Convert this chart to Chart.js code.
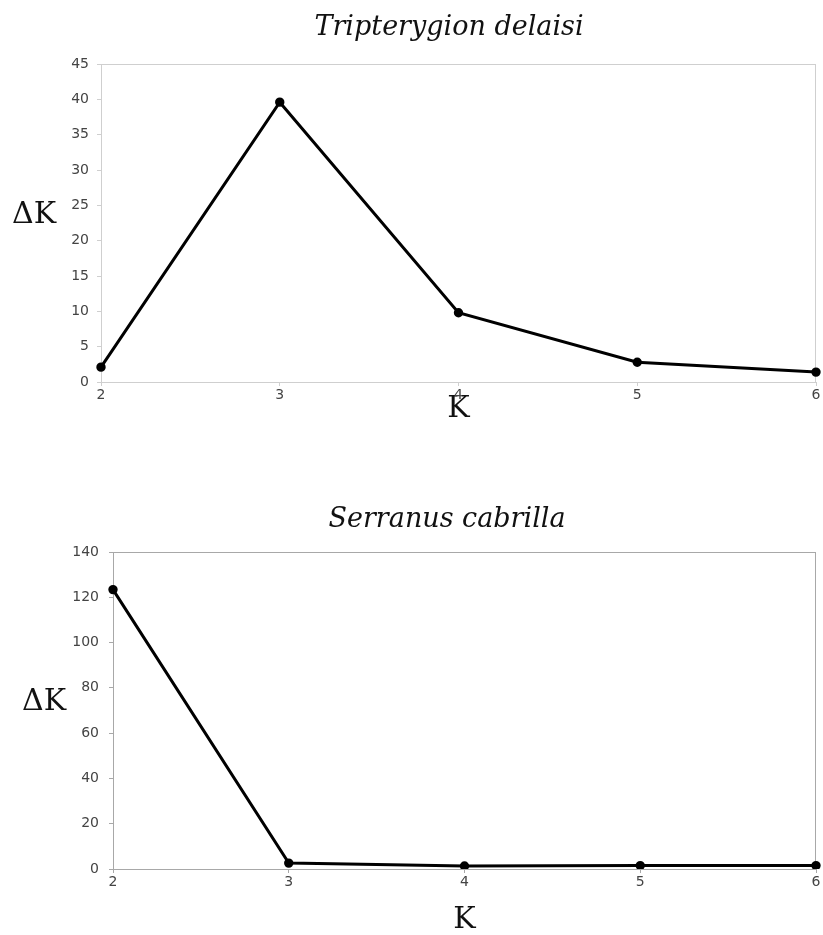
<!DOCTYPE html>
<html>
<head>
<meta charset="utf-8">
<script src="https://cdn.jsdelivr.net/npm/chart.js@4/dist/chart.umd.min.js"></script>
<style>
  html, body { margin: 0; padding: 0; background: #fff; }
  body { width: 823px; height: 935px; position: relative; overflow: hidden; }
  .box { position: absolute; left: 0; width: 823px; }
</style>
</head>
<body>
<div class="box" style="top:0;height:435px"><canvas id="chartTop"></canvas></div>
<div class="box" style="top:435px;height:500px"><canvas id="chartBottom"></canvas></div>
<script>
// data
const kLabels = ["2", "3", "4", "5", "6"];
const deltaKTripterygion = [2.1, 39.6, 9.8, 2.8, 1.4];
const deltaKSerranus = [123.4, 2.6, 1.3, 1.5, 1.5];
const topAxis = { max: 45, step: 5 };
const bottomAxis = { max: 140, step: 20 };

// ======================
// text + frame drawn on the canvas
// ======================
const decorations = {
    id: "decorations",
    beforeDatasetsDraw(chart, args, opts) {
        const a = chart.chartArea;
        const ctx = chart.ctx;
        ctx.save();
        ctx.strokeStyle = opts.frame;
        ctx.lineWidth = 1;
        ctx.strokeRect(a.left + 0.5, a.top + 0.5, a.right - a.left - 1, a.bottom - a.top);
        ctx.restore();
    },
    afterDraw(chart, args, opts) {
        const ctx = chart.ctx;
        ctx.save();
        ctx.fillStyle = "#111";
        ctx.textBaseline = "alphabetic";
        ctx.textAlign = "center";
        ctx.font = "italic 27px 'DejaVu Serif'";
        ctx.fillText(opts.title, opts.titleX, opts.titleY);
        ctx.textAlign = "left";
        ctx.font = "30px 'DejaVu Serif'";
        ctx.fillText("\u0394K", opts.dkX, opts.dkY);
        ctx.restore();
    }
};

function makeChart(id, values, axis, o) {
    return new Chart(document.getElementById(id), {
        type: "line",
        data: {
            labels: kLabels,
            datasets: [{
                data: values,
                borderColor: "#000",
                backgroundColor: "#000",
                borderWidth: 3,
                pointRadius: 3.2,
                pointBackgroundColor: "#000",
                tension: 0
            }]
        },
        options: {
            responsive: true,
            maintainAspectRatio: false,
            animation: false,
            layout: { padding: { left: 0, right: 3, top: o.top, bottom: 0 } },
            plugins: {
                legend: { display: false },
                tooltip: { enabled: false },
                decorations: o.deco
            },
            scales: {
                x: {
                    offset: false,
                    grid: { drawOnChartArea: false, color: o.frame, tickLength: 4 },
                    border: { color: o.frame },
                    ticks: { color: "#444", font: { family: "DejaVu Sans", size: 14 }, padding: 1, maxRotation: 0 },
                    title: {
                        display: true, text: "K", color: "#111",
                        font: { family: "DejaVu Serif", size: 30, lineHeight: 1 },
                        padding: { top: 0, bottom: o.kPad }
                    },
                    afterFit: (s) => {
                        s.height = o.xHeight;
                        s.paddingLeft = 0;
                        s.paddingRight = 0;
                    }
                },
                y: {
                    min: 0, max: axis.max,
                    grid: { drawOnChartArea: false, color: o.frame, tickLength: 4 },
                    border: { color: o.frame },
                    ticks: { stepSize: axis.step, color: "#444", font: { family: "DejaVu Sans", size: 14 }, padding: o.yPad },
                    afterFit: (s) => { s.width = o.yWidth; }
                }
            }
        },
        plugins: [decorations]
    });
}

makeChart("chartTop", deltaKTripterygion, topAxis, {
    top: 64, xHeight: 53, kPad: 11, yWidth: 101, yPad: 8, frame: "#cfcfcf",
    deco: { frame: "#cfcfcf", title: "Tripterygion delaisi", titleX: 449, titleY: 35, dkX: 12, dkY: 223 }
});

makeChart("chartBottom", deltaKSerranus, bottomAxis, {
    top: 117, xHeight: 66, kPad: 0, yWidth: 113, yPad: 10, frame: "#a8a8a8",
    deco: { frame: "#a8a8a8", title: "Serranus cabrilla", titleX: 447, titleY: 92, dkX: 22, dkY: 275 }
});
</script>
</body>
</html>
